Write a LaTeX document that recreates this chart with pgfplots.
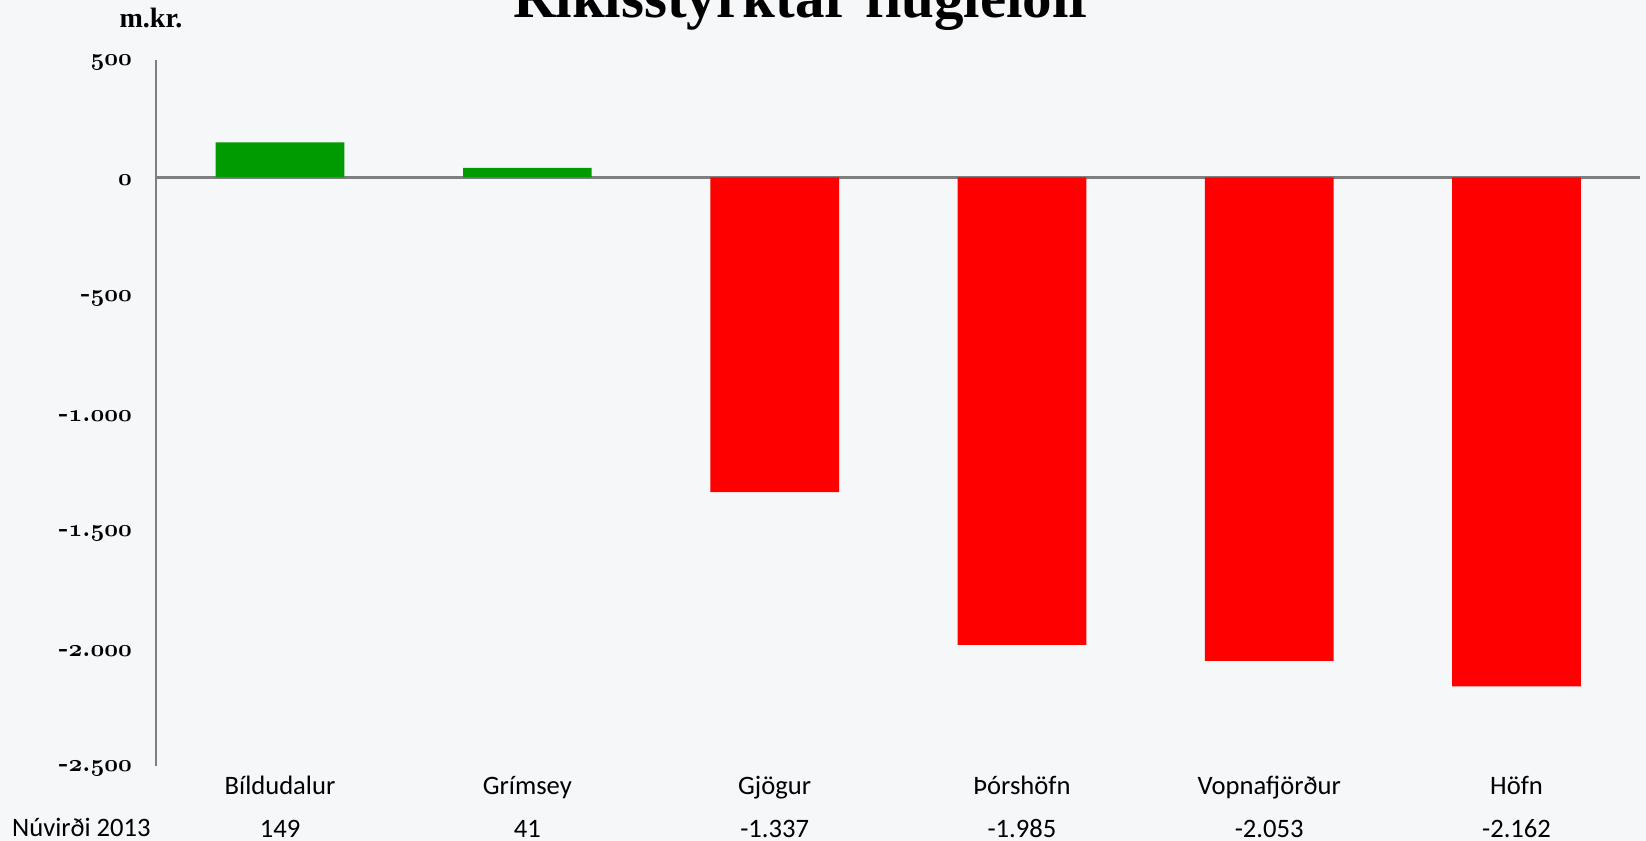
\documentclass[border=0pt]{standalone}
\usepackage{pgfplots}
\pgfplotsset{compat=1.18}
\usepackage{fontspec}
\newfontfamily\carlito{Carlito}
\newfontfamily\libserif{Liberation Serif}
% old-style digits from the math italic font
\newcommand\osn[1]{{\usefont{OML}{cmm}{b}{it}#1}}
\definecolor{bgcol}{RGB}{246,247,249}
\definecolor{axgray}{RGB}{127,127,127}
\definecolor{bargreen}{RGB}{0,155,0}
\definecolor{barred}{RGB}{255,0,0}

\begin{document}
\begin{tikzpicture}[x=1pt,y=1pt]
\useasboundingbox (0,0) rectangle (823,420.5);
\fill[bgcol] (0,0) rectangle (823,420.5);
\begin{axis}[
  at={(78.2pt,37.5pt)}, anchor=south west,
  scale only axis, width=741.9pt, height=353.1pt,
  xmin=-0.5, xmax=5.5, ymin=-2500, ymax=500,
  enlargelimits=false,
  ybar, bar width=64.35pt, bar shift=0pt,
  axis lines*=left,
  x axis line style={draw=none},
  y axis line style={draw=axgray, line width=1pt},
  major tick length=0pt,
  xtick={0,1,2,3,4,5},
  xticklabels={{Bíldudalur\\149},{Grímsey\\41},{Gjögur\\-1.337},{Þórshöfn\\-1.985},{Vopnafjörður\\-2.053},{Höfn\\-2.162}},
  xticklabel style={font=\carlito\fontsize{13.3}{21.3}\selectfont, align=center, inner sep=0pt},
  xticklabel shift=5pt,
  ytick={-2500,-2000,-1500,-1000,-500,0,500},
  yticklabels={{-\osn{2}.\osn{500}},{-\osn{2}.\osn{000}},{-\osn{1}.\osn{500}},{-\osn{1}.\osn{000}},{-\osn{500}},{\osn{0}},{\osn{500}}},
  yticklabel style={font=\bfseries\fontsize{13}{14}\selectfont, inner sep=0pt, yshift=-1.5pt},
  yticklabel shift=12pt,
  extra y ticks={0}, extra y tick labels={},
  extra y tick style={grid=major, major grid style={draw=axgray, line width=1.5pt}},
]
\addplot[fill=bargreen, draw=none] coordinates {(0,149) (1,41)};
\addplot[fill=barred, draw=none] coordinates {(2,-1337) (3,-1985) (4,-2053) (5,-2162)};
\end{axis}
\node[anchor=base, font=\libserif\bfseries\fontsize{14}{16}\selectfont] at (75.5,406.5) {m.kr.};
\node[anchor=base, font=\libserif\bfseries\fontsize{29.5}{32}\selectfont] at (402,411.5) {Ríkisstyrktar flugleiðir};
\node[anchor=base, font=\carlito\fontsize{13.3}{15}\selectfont] at (40.7,2.3) {Núvirði 2013};
\end{tikzpicture}
\end{document}
